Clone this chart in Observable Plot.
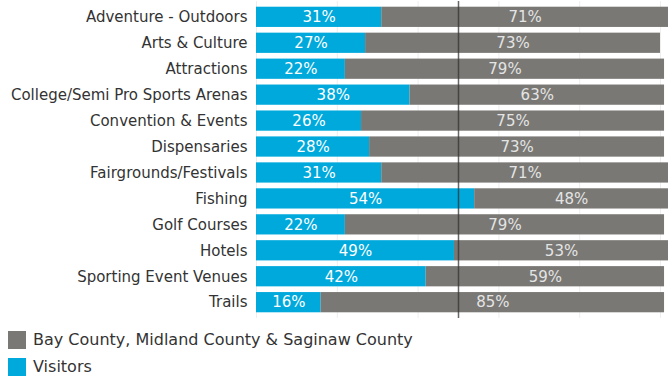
<!DOCTYPE html>
<html>
<head>
<meta charset="utf-8">
<script src="https://cdn.jsdelivr.net/npm/d3@7"></script>
<script src="https://cdn.jsdelivr.net/npm/@observablehq/plot@0.6"></script>
<style>
  body { margin: 0; background: #fff; font-family: "DejaVu Sans", sans-serif; }
  #chart svg { display: block; }
  .legend { margin-left: 8px; margin-top: 6px; }
  .legend .row { display: flex; align-items: center; height: 27px; font-size: 16px; color: #333; }
  .legend .sw { width: 18px; height: 18px; margin-right: 7px; }
</style>
</head>
<body>
<div id="chart"></div>
<div class="legend" id="legend"></div>
<script>
const categories = ["Adventure - Outdoors","Arts & Culture","Attractions","College/Semi Pro Sports Arenas","Convention & Events","Dispensaries","Fairgrounds/Festivals","Fishing","Golf Courses","Hotels","Sporting Event Venues","Trails"];
const visitors = [31,27,22,38,26,28,31,54,22,49,42,16];
const residents = [71,73,79,63,75,73,71,48,79,53,59,85];
const groups = ["Visitors","Bay County, Midland County & Saginaw County"];
const colors = ["#00a9dc","#797874"];

const data = [];
categories.forEach((c, i) => {
  data.push({category: c, group: groups[0], value: visitors[i]});
  data.push({category: c, group: groups[1], value: residents[i]});
});

const stackOpts = {x: "value", y: "category", z: "group", order: groups};

const chart = Plot.plot({
  width: 668,
  height: 320,
  marginLeft: 256,
  marginRight: 8,
  marginTop: 1,
  marginBottom: 2,
  style: {fontFamily: "DejaVu Sans, sans-serif"},
  x: {domain: [0, 100], axis: null},
  y: {domain: categories, padding: 0.22, round: false, label: null, tickSize: 0, tickPadding: 9},
  color: {domain: groups, range: colors},
  marks: [
    Plot.ruleX([0, 20, 40, 60, 80, 100], {stroke: "#eeeeee"}),
    Plot.barX(data, Plot.stackX({...stackOpts, fill: "group"})),
    Plot.text(data, Plot.stackX({...stackOpts, text: d => d.group === groups[0] ? d.value + "%" : "", fill: "white", fontSize: 15})),
    Plot.text(data, Plot.stackX({...stackOpts, text: d => d.group === groups[1] ? d.value + "%" : "", fill: "#e4e4e4", fontSize: 15})),
    Plot.ruleX([50], {stroke: "#333", strokeOpacity: 0.75, strokeWidth: 1.5}),
    Plot.axisY({tickSize: 0, tickPadding: 9, fontSize: 15, fill: "#333", label: null})
  ]
});
document.getElementById("chart").append(chart);

const legendOrder = [1, 0];
const legend = document.getElementById("legend");
legendOrder.forEach(i => {
  const row = document.createElement("div");
  row.className = "row";
  const sw = document.createElement("div");
  sw.className = "sw";
  sw.style.background = colors[i];
  const t = document.createElement("span");
  t.textContent = groups[i];
  row.append(sw, t);
  legend.append(row);
});
</script>
</body>
</html>
